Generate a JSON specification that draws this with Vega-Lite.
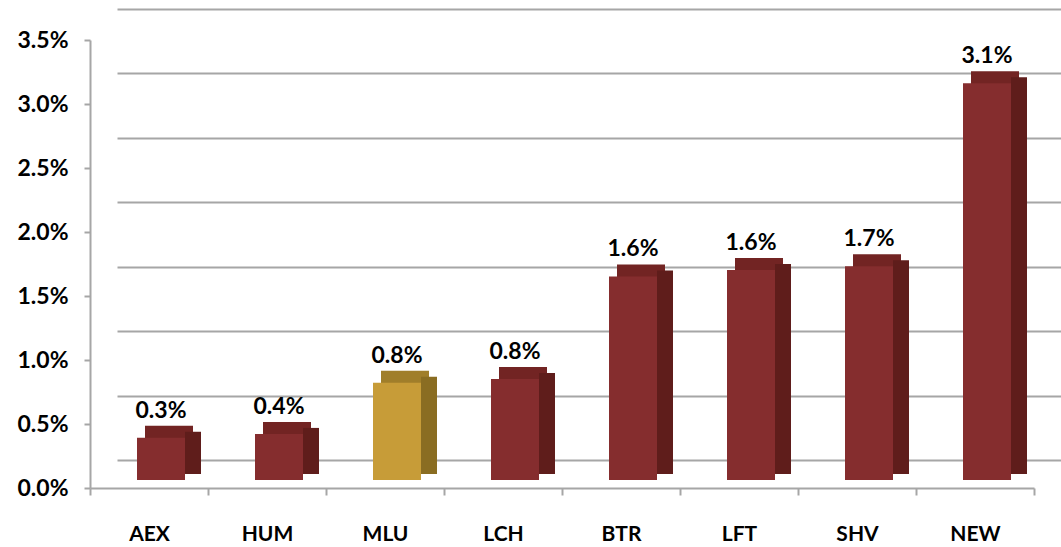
{
  "$schema": "https://vega.github.io/schema/vega-lite/v6.json",
  "width": 971,
  "height": 479,
  "autosize": {"type": "none"},
  "padding": {"left": 90, "top": 9, "right": 0, "bottom": 59},
  "background": "white",
  "config": {"view": {"stroke": null}, "font": "Lato"},
  "data": {
    "values": [
      {"ticker": "AEX", "value": 0.0033, "group": "peer"},
      {"ticker": "HUM", "value": 0.0036, "group": "peer"},
      {"ticker": "MLU", "value": 0.0076, "group": "focus"},
      {"ticker": "LCH", "value": 0.0079, "group": "peer"},
      {"ticker": "BTR", "value": 0.0159, "group": "peer"},
      {"ticker": "LFT", "value": 0.0164, "group": "peer"},
      {"ticker": "SHV", "value": 0.0167, "group": "peer"},
      {"ticker": "NEW", "value": 0.031, "group": "peer"}
    ]
  },
  "encoding": {
    "x": {
      "field": "ticker",
      "type": "nominal",
      "sort": null,
      "scale": {"range": [0, 944], "paddingInner": 0, "paddingOuter": 0},
      "axis": {
        "title": null,
        "labelAngle": 0,
        "labelFont": "Lato",
        "labelFontSize": 21,
        "labelFontWeight": "bold",
        "labelColor": "#000000",
        "labelPadding": 28,
        "tickBand": "extent",
        "tickColor": "#A6A6A6",
        "tickWidth": 2,
        "tickSize": 7,
        "domainColor": "#A6A6A6",
        "domainWidth": 2,
        "grid": false
      }
    }
  },
  "layer": [
    {
      "mark": {"type": "bar", "opacity": 0},
      "encoding": {
        "y": {
          "field": "value",
          "type": "quantitative",
          "scale": {"domain": [0, 0.035], "range": [451, 0], "nice": false, "zero": true},
          "axis": {
            "orient": "right",
            "title": null,
            "labels": false,
            "ticks": false,
            "domain": false,
            "grid": true,
            "gridColor": "#A6A6A6",
            "gridWidth": 2,
            "values": [0, 0.005, 0.01, 0.015, 0.02, 0.025, 0.03, 0.035]
          }
        }
      }
    },
    {
      "encoding": {
        "y": {
          "field": "value",
          "type": "quantitative",
          "scale": {"domain": [0, 0.035], "range": [479, 31], "nice": false, "zero": true},
          "axis": {
            "orient": "left",
            "title": null,
            "grid": false,
            "format": ".1%",
            "values": [0, 0.005, 0.01, 0.015, 0.02, 0.025, 0.03, 0.035],
            "labelFont": "Lato",
            "labelFontSize": 23,
            "labelFontWeight": "bold",
            "labelColor": "#000000",
            "labelPadding": 16,
            "tickColor": "#A6A6A6",
            "tickWidth": 2,
            "tickSize": 6,
            "domainColor": "#A6A6A6",
            "domainWidth": 2
          }
        }
      },
      "layer": [
        {
          "mark": {"type": "bar", "size": 48, "xOffset": 20, "yOffset": -20, "y2Offset": -20},
          "encoding": {
            "color": {"field": "group", "type": "nominal", "scale": {"domain": ["peer", "focus"], "range": ["#722423", "#A07E2A"]}, "legend": null}
          }
        },
        {
          "mark": {"type": "bar", "size": 16, "xOffset": 44, "yOffset": -14, "y2Offset": -14},
          "encoding": {
            "color": {"field": "group", "type": "nominal", "scale": {"domain": ["peer", "focus"], "range": ["#5F1D1B", "#8A6D22"]}, "legend": null}
          }
        },
        {
          "mark": {"type": "bar", "size": 48, "xOffset": 12, "yOffset": -8, "y2Offset": -8},
          "encoding": {
            "color": {"field": "group", "type": "nominal", "scale": {"domain": ["peer", "focus"], "range": ["#852D2E", "#C79C38"]}, "legend": null}
          }
        },
        {
          "mark": {"type": "text", "xOffset": 12, "dy": -28, "baseline": "alphabetic", "align": "center", "font": "Lato", "fontSize": 23, "fontWeight": "bold", "color": "#000000"},
          "encoding": {
            "text": {"field": "value", "type": "quantitative", "format": ".1%"}
          }
        }
      ],
      "resolve": {"scale": {"color": "independent"}}
    }
  ],
  "resolve": {"scale": {"y": "independent"}}
}
